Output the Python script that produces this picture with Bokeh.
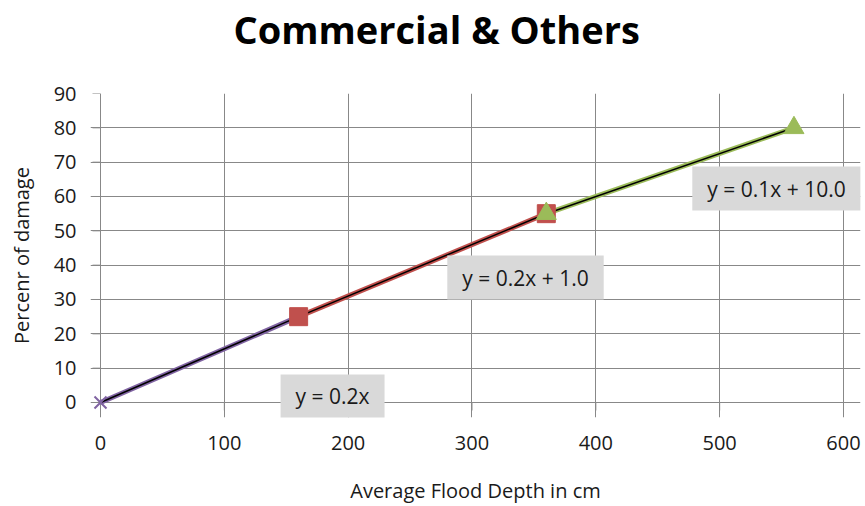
from bokeh.plotting import figure
from bokeh.models import Range1d, Label, FixedTicker, Title
from bokeh.embed import file_html
from bokeh.resources import INLINE

# data
s1_x = [0, 160]
s1_y = [0, 25]
s2_x = [160, 360]
s2_y = [25, 55]
s3_x = [360, 560]
s3_y = [55, 80]
title_text = "Commercial & Others"
equations = ["y = 0.2x", "y = 0.2x + 1.0", "y = 0.1x + 10.0"]
x_ticks = [0, 100, 200, 300, 400, 500, 600]
y_ticks = [0, 10, 20, 30, 40, 50, 60, 70, 80, 90]

FONT = "Open Sans"
GRID = "#888888"
TXT = "#1a1a1a"

# a little room around the 0..600 / 0..90 grid so markers and boxes are not cut
p = figure(width=865, height=506, output_backend="svg", toolbar_location=None,
           x_range=Range1d(-8.075, 613.73), y_range=Range1d(-4.369, 90))
p.min_border_left = 90
p.min_border_right = 5
p.min_border_top = 93
p.min_border_bottom = 89
p.outline_line_color = None
p.background_fill_color = "white"
p.border_fill_color = "white"

p.title.text = ""
# spacer between frame and title, then the title itself
p.add_layout(Title(text=" ", text_font=FONT, text_font_size="20px", standoff=10), "above")
p.add_layout(Title(text=title_text, text_font=FONT, text_font_size="38px",
                   text_font_style="bold", text_color="black", align="left",
                   offset=143, standoff=0), "above")

for ax in (p.xaxis[0], p.yaxis[0]):
    ax.axis_line_color = None
    ax.major_tick_line_color = None
    ax.minor_tick_line_color = None
    ax.major_tick_in = 0
    ax.major_tick_out = 0
    ax.major_label_text_font = FONT
    ax.major_label_text_font_size = "20px"
    ax.major_label_text_color = TXT
    ax.axis_label_text_font = FONT
    ax.axis_label_text_font_size = "20px"
    ax.axis_label_text_font_style = "normal"
    ax.axis_label_text_color = TXT

p.xaxis.ticker = FixedTicker(ticks=x_ticks)
p.yaxis.ticker = FixedTicker(ticks=y_ticks)
p.xaxis.axis_label = "Average Flood Depth in cm"
p.yaxis.axis_label = "Percenr of damage"
p.xaxis.major_label_standoff = 18
p.yaxis.major_label_standoff = 14
p.xaxis.axis_label_standoff = 24
p.yaxis.axis_label_standoff = 16

p.xgrid.ticker = FixedTicker(ticks=x_ticks)
p.ygrid.ticker = FixedTicker(ticks=y_ticks)
p.xgrid.bounds = (y_ticks[0], y_ticks[-1])
p.ygrid.bounds = (x_ticks[0], x_ticks[-1])
p.grid.grid_line_color = GRID
p.grid.grid_line_width = 1

# outward tick marks (drawn at the zero lines)
tick_dx = 8 / 1.2383
tick_dy = 8 / 3.4333
p.segment(x0=x_ticks, y0=[0] * len(x_ticks), x1=x_ticks, y1=[-tick_dy] * len(x_ticks),
          line_color=GRID, line_width=1)
p.segment(x0=[0] * len(y_ticks), y0=y_ticks, x1=[-tick_dx] * len(y_ticks), y1=y_ticks,
          line_color=GRID, line_width=1)

# series lines
p.line(s1_x, s1_y, line_color="#8064A2", line_width=5)
p.line(s2_x, s2_y, line_color="#C0504D", line_width=5)
p.line(s3_x, s3_y, line_color="#9BBB59", line_width=5)

# trendlines (linear fit through each series)
for xs, ys in ((s1_x, s1_y), (s2_x, s2_y), (s3_x, s3_y)):
    p.line(xs, ys, line_color="black", line_width=1.5)

# markers
p.scatter(s1_x, s1_y, marker="x", size=17, line_color="#8064A2", line_width=2)
p.scatter(s2_x, s2_y, marker="square", size=18, fill_color="#C0504D", line_color="#C0504D")
p.scatter(s3_x, s3_y, marker="triangle", size=20, fill_color="#9BBB59", line_color="#9BBB59")

# equation labels
label_pos = [(187.4, 1.75), (343.2, 36.4), (545.9, 62.3)]
for (lx, ly), txt in zip(label_pos, equations):
    p.add_layout(Label(x=lx, y=ly, text=txt, text_align="center", text_baseline="middle",
                       text_font=FONT, text_font_size="21px", text_color=TXT,
                       background_fill_color="#D9D9D9", padding=(15, 8)))

open("out.html", "w").write(file_html(p, INLINE))
